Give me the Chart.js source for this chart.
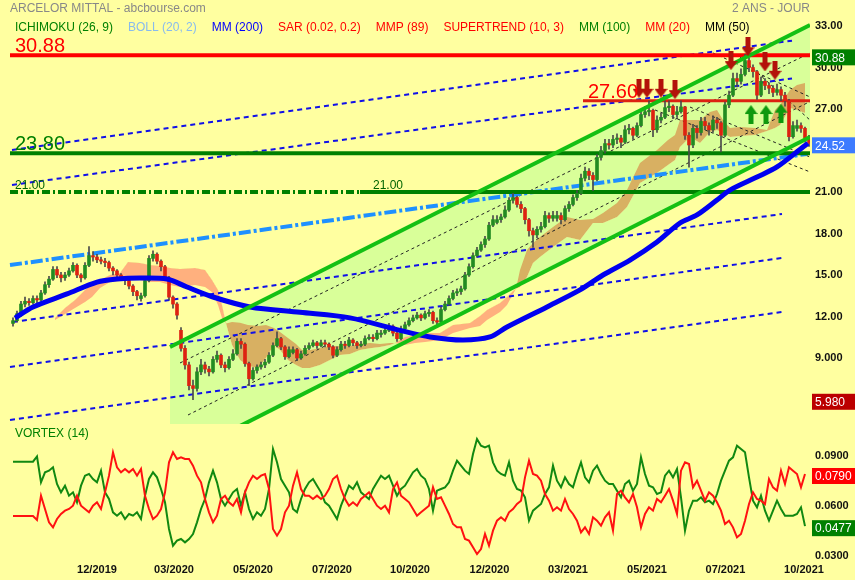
<!DOCTYPE html>
<html lang="fr">
<head>
<meta charset="UTF-8">
<title>ARCELOR MITTAL - 2 ans</title>
<script src="https://cdn.jsdelivr.net/npm/chart.js"></script>
<style>
  html, body { margin: 0; padding: 0; background: #ffffa0; }
  canvas { display: block; }
</style>
</head>
<body>
<canvas id="prix" width="855" height="424"></canvas>
<canvas id="vortex" width="855" height="156"></canvas>
<script>
// bougies (1 bougie ~ 2,5 seances)
const opens = [
  11.5,11.7,12.2,12.9,13.1,13.0,13.3,13.2,13.7,14.3, 14.7,15.4,15.0,14.8,15.0,15.3,15.7,15.0,14.8,15.7,
  16.4,16.3,16.1,16.0,15.9,15.5,15.3,15.0,14.8,14.6, 14.2,13.8,13.3,13.5,14.6,16.2,16.5,16.0,15.6,14.8,
  13.4,12.9,11.0,9.7,8.5,7.0,6.8,8.0,8.5,8.2, 8.0,8.9,9.2,8.5,8.3,8.9,9.3,10.2,10.0,8.6,
  7.5,8.1,8.35,8.5,8.7,9.2,9.9,10.4,9.8,9.1, 9.4,9.6,9.0,9.3,9.7,9.9,10.1,9.9,10.1,10.0,
  9.8,9.2,9.6,10.0,9.9,10.3,10.1,9.9,10.0,10.4, 10.5,10.4,10.7,10.8,11.0,11.3,10.8,10.4,11.1,11.4,
  11.7,11.9,12.1,11.9,12.2,12.3,11.7,11.6,12.5,12.9, 13.3,13.7,13.8,14.0,15.0,15.6,16.4,16.8,17.2,17.6,
  18.6,18.8,19.0,19.2,19.7,20.4,20.6,20.1,19.8,19.0, 18.2,17.9,18.3,18.5,19.3,19.1,19.1,19.3,19.0,19.8,
  20.1,20.6,20.9,22.0,22.5,22.2,21.9,23.5,24.0,24.5, 24.4,24.8,24.9,24.6,25.5,25.6,25.1,25.8,26.6,26.8,
  26.9,25.5,26.2,26.4,27.1,27.2,26.6,26.8,27.15,25.1, 24.4,25.6,25.3,26.1,25.8,25.5,26.2,26.0,25.1,27.3,
  28.0,29.2,29.0,29.5,30.5,30.0,29.7,28.0,29.0,28.7, 28.5,28.2,28.4,28.0,27.6,25.0,25.6,25.8,25.6,24.9
];
const highs = [
  11.9,12.4,13.1,13.4,13.3,13.5,13.5,13.9,14.5,14.9, 15.6,15.6,15.2,15.2,15.5,15.9,15.8,15.1,15.9,17.05,
  16.7,16.5,16.3,16.2,16.0,15.6,15.4,15.1,14.9,14.7, 14.3,13.9,13.7,14.8,16.4,16.75,16.6,16.1,15.7,14.9,
  13.5,13.0,11.2,9.9,8.7,7.4,8.3,8.9,8.7,8.4, 9.1,9.5,9.3,8.7,9.1,9.6,10.4,10.4,10.1,8.7,
  8.3,8.5,8.7,8.9,9.4,10.1,10.9,10.5,9.9,9.8, 9.8,9.7,9.5,9.9,10.1,10.3,10.2,10.3,10.3,10.1,
  9.9,9.8,10.2,10.2,10.5,10.4,10.2,10.2,10.6,10.7, 10.7,11.0,11.0,11.2,11.5,11.4,10.9,11.3,11.6,11.9,
  12.1,12.3,12.2,12.4,12.5,12.4,11.9,12.7,13.1,13.5, 13.9,14.0,14.2,15.2,15.8,16.6,17.0,17.4,17.8,18.8,
  19.3,19.3,19.4,20.0,20.6,20.9,20.7,20.3,19.9,19.1, 18.4,18.5,18.8,19.6,19.5,19.6,19.6,19.5,20.0,20.3,
  20.8,21.1,22.3,22.8,22.7,22.4,23.7,24.3,24.8,24.8, 25.1,25.2,25.1,25.8,25.9,25.7,26.0,26.9,27.2,27.6,
  27.0,26.5,26.7,27.6,27.6,27.3,27.2,27.6,27.2,25.3, 25.9,25.8,26.4,26.4,26.0,26.5,26.4,26.1,27.5,28.3,
  29.6,29.6,29.9,30.95,30.7,30.2,29.8,29.3,29.2,28.9, 28.7,28.8,28.6,28.2,27.7,26.1,26.2,26.0,25.7,25.1
];
const lows = [
  11.3,11.6,12.0,12.7,12.8,12.9,13.0,13.1,13.6,14.1, 14.6,14.8,14.5,14.6,14.9,15.2,14.8,14.5,14.7,15.6,
  16.0,15.9,15.8,15.6,15.3,15.0,14.8,14.6,14.3,14.0, 13.5,13.2,13.1,13.4,14.5,16.0,15.8,15.3,14.6,13.2,
  12.6,11.8,9.5,8.2,6.7,5.98,6.6,7.8,7.9,7.7, 7.9,8.7,8.3,8.0,8.2,8.8,9.2,9.7,8.4,7.0,
  7.4,7.9,8.2,8.3,8.6,9.1,9.8,9.6,8.9,9.0, 9.3,8.8,8.9,9.2,9.6,9.8,9.7,9.8,9.8,9.6,
  9.0,9.1,9.5,9.7,9.8,9.9,9.7,9.8,9.9,10.3, 10.2,10.3,10.5,10.7,10.9,10.6,10.2,10.3,11.0,11.3,
  11.6,11.8,11.7,11.8,12.0,11.5,11.3,11.5,12.4,12.8, 13.2,13.5,13.6,13.9,14.9,15.5,16.3,16.7,17.0,17.5,
  18.5,18.7,18.8,19.1,19.6,20.2,19.9,19.5,18.7,17.8, 17.0,17.7,18.1,18.4,18.8,18.9,18.9,18.7,18.9,19.6,
  20.0,20.4,20.8,21.8,21.9,21.1,21.8,23.3,23.8,24.1, 24.2,24.5,24.2,24.5,25.2,24.8,25.0,25.7,26.4,26.5,
  25.0,25.3,26.0,26.3,26.8,26.3,26.4,26.7,24.8,22.8, 24.2,24.9,25.1,25.5,25.1,25.3,25.6,23.9,25.0,27.1,
  27.9,28.6,28.8,29.4,29.7,29.3,27.7,27.9,28.4,28.1, 27.9,28.0,27.6,27.2,24.7,24.9,25.4,25.3,24.6,24.3
];
const closes = [
  11.7,12.2,12.9,13.1,13.0,13.3,13.2,13.7,14.3,14.7, 15.4,15.0,14.8,15.0,15.3,15.7,15.0,14.8,15.7,16.4,
  16.3,16.1,16.0,15.9,15.5,15.3,15.0,14.8,14.6,14.2, 13.8,13.5,13.5,14.6,16.2,16.5,16.0,15.6,14.8,13.4,
  12.9,12.1,9.7,8.5,7.0,6.8,8.0,8.5,8.2,8.0, 8.9,9.2,8.5,8.3,8.9,9.3,10.2,10.0,8.6,7.5,
  8.1,8.35,8.5,8.7,9.2,9.9,10.4,9.8,9.1,9.6, 9.6,9.0,9.3,9.7,9.9,10.1,9.9,10.1,10.0,9.8,
  9.2,9.6,10.0,9.9,10.3,10.1,9.9,10.0,10.4,10.5, 10.4,10.8,10.8,11.0,11.3,10.8,10.4,11.1,11.4,11.7,
  11.9,12.1,11.9,12.2,12.3,11.7,11.6,12.5,12.9,13.3, 13.7,13.8,14.0,15.0,15.6,16.4,16.8,17.2,17.6,18.6,
  19.0,19.0,19.2,19.7,20.4,20.6,20.1,19.8,19.0,18.2, 17.9,18.3,18.5,19.3,19.1,19.3,19.3,19.0,19.8,20.1,
  20.6,20.9,22.0,22.5,22.2,21.9,23.5,24.0,24.5,24.4, 24.8,24.9,24.6,25.5,25.6,25.1,25.8,26.6,26.8,26.9,
  25.5,26.2,26.4,27.1,27.2,26.6,26.8,27.15,25.1,24.4, 25.6,25.3,26.1,25.8,25.5,26.2,26.0,25.1,27.3,28.0,
  29.2,29.0,29.5,30.5,30.0,29.7,28.0,29.0,28.7,28.5, 28.2,28.4,28.0,27.6,25.0,25.8,25.8,25.6,24.9,24.52
];

// MM 200
const ma200K = [0.5,5,13.5,21,26,31.75,38.5,43.5,50,59.25,71.75,84.25,96.75,104.25,112.5,119.25,123.5,133.5,141.75,147.5,154.25,161,166.75,171,176,179.25,186,191,197.5,198.75];
const ma200 = [11.89,12.69,13.63,14.49,14.71,14.78,14.71,14.13,13.41,12.69,12.3,11.9,11.0,10.52,10.3,10.52,11.24,12.69,13.92,15.0,16.08,17.39,18.76,19.34,20.42,21.14,22.08,22.81,24.25,24.52];

// nuage ichimoku
const cloudK = [10.5,13,15.5,18,19.75,21.75,24.25,26.75,28.75,31.75,34.25,36.75,39.25,41.75,45.5,48,49.75,51.25,52.25,53.25,
  54.75,56.75,58.75,61.25,63.25,65.25,66.75,68.75,70.75,72.25,74.25,76.75,79.25,81.75,84.25,86.75,89.25,91.75,94.25,95.5,
  98,100.5,103,106.75,110,114.25,116.75,118.5,121.75,123.5,125,125.75,
  126.75,128.5,130,131.75,135,138.5,141.75,145,147.5,151,153.5,156.75,161,163.75,165.5,166.75,169.25,171.75,174.25,176,177.5,179.25,181.75,185.5,188.5,190.5,191.75,194.25,196,198];
const spanA = [11.75,12.18,12.61,13.05,13.41,14.06,14.49,14.57,14.78,14.64,14.49,14.49,14.28,14.13,14.28,14.13,13.77,12.83,11.89,11.5,
  11.6,11.54,11.39,11.32,11.39,11.17,10.88,10.45,10.02,9.57,9.57,9.71,9.86,9.86,9.86,10.02,10.08,10.01,10.08,10.08,
  9.94,10.08,10.16,10.31,10.81,11.17,11.32,11.75,12.33,12.83,13.63,14.0,
  15.36,16.81,17.31,17.75,18.47,19.19,18.98,19.05,19.48,20.2,21.14,23.1,24.04,24.76,25.12,26.2,26.2,26.2,26.78,26.93,26.2,25.63,25.7,25.63,25.48,26.93,27.29,28.37,28.73,28.88];
const spanB = [11.89,12.61,13.19,13.92,14.35,14.64,15.0,15.14,15.94,15.87,15.72,15.65,15.51,15.43,15.51,15.36,14.64,13.92,12.83,11.5,
  9.94,8.86,8.42,8.28,9.0,9.94,9.57,8.86,8.5,8.28,8.28,8.5,8.86,9.21,9.29,9.57,9.71,9.79,9.94,10.08,
  10.52,10.66,10.81,10.81,11.39,11.53,12.04,12.47,12.98,13.41,13.84,14.0,
  14.13,14.86,15.87,16.3,17.02,17.75,17.53,18.76,18.76,19.19,19.92,21.65,22.37,22.95,23.31,24.25,24.98,24.54,25.34,25.48,25.26,24.98,25.05,25.12,25.41,25.63,25.84,27.07,26.93,26.71];

// lignes de tendance [indice, cours]
const channelHigh = [[39.25, 9.8], [199.25, 33.07]];
const channelLow = [[39.25, 1.52], [199.25, 24.98]];
const blueDashed = [
  [[-0.25, 24.04], [194.75, 31.94]],
  [[-0.25, 21.51], [194.75, 29.21]],
  [[0, 11.6], [192.25, 19.41]],
  [[-0.75, 8.35], [192.25, 16.23]],
  [[-0.75, 4.52], [192.25, 12.33]]
];
const lightBlueLine = [[-0.75, 15.72], [198.5, 23.75]];
const blackDashed = [
  [[41.75, 8.64], [199.25, 31.05]],
  [[43.75, 4.88], [199.25, 27.54]],
  [[175, 31.05], [199.25, 27.87]],
  [[181.75, 30.76], [199.25, 26.2]],
  [[169.25, 27.14], [199.25, 23.53]],
  [[160.5, 26.93], [199.25, 22.45]]
];
// niveaux horizontaux
const levelStart = -0.75, levelEnd = 199.25;
const resistHigh = 30.88, resistMid = 27.60, resistMidStart = 142.5;
const supportHigh = 23.80, supportLow = 21.00, supportLowSplit = 86.75;

// fleches du graphique
const sellArrows = [[156.5, 28.5], [158.5, 28.5], [162, 28.5], [165.5, 28.4], [179.5, 30.5], [183.75, 31.5], [188, 30.4], [190.5, 29.8]];
const buyArrows = [[184.5, 26.6], [188.25, 26.6], [192, 26.7]];

// textes
const levelTexts = [['30.88', 0.5, 30.88], ['23.80', 0.5, 23.80], ['21.00', 0.5, 21.00], ['21.00', 90, 21.00], ['27.60', 143.75, 27.60]];
const legendItems = ['ICHIMOKU (26, 9)', 'BOLL (20, 2)', 'MM (200)', 'SAR (0.02, 0.2)', 'MMP (89)', 'SUPERTREND (10, 3)', 'MM (100)', 'MM (20)', 'MM (50)'];
const legendColors = ['#008000', '#88bbee', '#0000ff', '#ff0000', '#ff0000', '#ff0000', '#008000', '#ff0000', '#000000'];
const priceTicks = [9, 12, 15, 18, 21, 27, 30, 33];
const priceMarks = [30.88, 24.52, 5.98];

// vortex (14)
const viPlus = [
  0.0864,0.0864,0.0864,0.0864,0.0864,0.0864,0.0895,0.074,0.080,0.081, 0.083,0.073,0.068,0.072,0.066,0.068,0.062,0.072,0.078,0.079,
  0.076,0.074,0.081,0.068,0.064,0.056,0.054,0.056,0.052,0.055, 0.054,0.056,0.052,0.066,0.076,0.080,0.077,0.070,0.062,0.046,
  0.036,0.039,0.040,0.038,0.040,0.043,0.050,0.058,0.064,0.074, 0.081,0.074,0.064,0.060,0.064,0.068,0.070,0.060,0.068,0.058,
  0.052,0.056,0.054,0.058,0.070,0.094,0.086,0.076,0.072,0.068, 0.058,0.056,0.064,0.070,0.074,0.076,0.072,0.068,0.062,0.060,
  0.056,0.052,0.060,0.066,0.072,0.070,0.074,0.068,0.066,0.064, 0.070,0.074,0.078,0.076,0.078,0.072,0.066,0.070,0.072,0.076,
  0.080,0.082,0.078,0.076,0.070,0.057,0.069,0.070,0.071,0.074, 0.081,0.087,0.084,0.081,0.079,0.091,0.100,0.096,0.095,0.096,
  0.086,0.081,0.079,0.078,0.086,0.075,0.070,0.069,0.065,0.051, 0.057,0.059,0.061,0.067,0.071,0.084,0.075,0.071,0.077,0.073,
  0.071,0.079,0.086,0.077,0.074,0.081,0.084,0.079,0.075,0.073, 0.073,0.069,0.065,0.073,0.075,0.069,0.073,0.089,0.079,0.072,
  0.071,0.067,0.068,0.078,0.081,0.077,0.082,0.065,0.045,0.057, 0.063,0.063,0.065,0.062,0.063,0.061,0.067,0.075,0.081,0.087,
  0.089,0.096,0.094,0.092,0.077,0.063,0.059,0.066,0.057,0.051, 0.057,0.063,0.058,0.054,0.054,0.054,0.055,0.059,0.0477
];
const viMinus = [
  0.0538,0.0538,0.0538,0.0538,0.0538,0.0538,0.0514,0.066,0.058,0.050, 0.047,0.052,0.055,0.057,0.058,0.060,0.066,0.060,0.058,0.056,
  0.060,0.062,0.058,0.068,0.078,0.092,0.083,0.080,0.082,0.080, 0.082,0.078,0.082,0.066,0.058,0.052,0.054,0.058,0.068,0.086,
  0.092,0.088,0.089,0.088,0.088,0.084,0.078,0.074,0.064,0.056, 0.050,0.054,0.064,0.066,0.062,0.060,0.064,0.056,0.068,0.074,
  0.078,0.076,0.078,0.079,0.070,0.046,0.042,0.046,0.056,0.060, 0.072,0.080,0.070,0.066,0.066,0.064,0.066,0.064,0.066,0.070,
  0.076,0.078,0.070,0.064,0.060,0.062,0.060,0.064,0.066,0.068, 0.064,0.060,0.058,0.060,0.056,0.070,0.074,0.066,0.064,0.062,
  0.058,0.054,0.056,0.058,0.060,0.071,0.064,0.065,0.060,0.055, 0.049,0.047,0.047,0.040,0.039,0.035,0.031,0.034,0.043,0.036,
  0.045,0.051,0.053,0.051,0.056,0.058,0.061,0.063,0.077,0.087, 0.079,0.078,0.075,0.067,0.063,0.057,0.059,0.057,0.064,0.058,
  0.055,0.051,0.044,0.047,0.043,0.053,0.051,0.048,0.053,0.056, 0.045,0.067,0.069,0.065,0.062,0.067,0.059,0.047,0.055,0.059,
  0.057,0.064,0.062,0.066,0.070,0.063,0.055,0.081,0.086,0.085, 0.071,0.075,0.069,0.063,0.068,0.066,0.062,0.057,0.049,0.051,
  0.047,0.041,0.043,0.051,0.061,0.068,0.064,0.063,0.061,0.076, 0.071,0.069,0.081,0.073,0.083,0.081,0.079,0.071,0.079
];
const vortexTicks = [0.03, 0.06, 0.09];
const vortexMarks = [0.0790, 0.0477];

// axe des dates
const xTickPos = [21, 40.25, 60, 79.75, 99.25, 119.1, 138.75, 158.5, 178.1, 197.75];
const xTickLabels = ['12/2019', '03/2020', '05/2020', '07/2020', '10/2020', '12/2020', '03/2021', '05/2021', '07/2021', '10/2021'];

Chart.defaults.font.family = '"Liberation Sans", Arial, sans-serif';
Chart.defaults.animation = false;

const X_MIN = -3.25, X_MAX = 199.25;
const pts = arr => arr.map(p => ({x: p[0], y: p[1]}));

function lineDs(points, color, width, dash, order) {
  return {type: 'line', data: pts(points), borderColor: color, borderWidth: width,
    borderDash: dash || [], pointRadius: 0, fill: false, tension: 0, order: order};
}

function arrowImg(color, up) {
  const c = document.createElement('canvas');
  c.width = 13; c.height = 19;
  const g = c.getContext('2d');
  g.fillStyle = color;
  g.beginPath();
  if (up) {
    g.moveTo(6.5, 0); g.lineTo(13, 9); g.lineTo(9, 9); g.lineTo(9, 19);
    g.lineTo(4, 19); g.lineTo(4, 9); g.lineTo(0, 9);
  } else {
    g.moveTo(4, 0); g.lineTo(9, 0); g.lineTo(9, 10); g.lineTo(13, 10);
    g.lineTo(6.5, 19); g.lineTo(0, 10); g.lineTo(4, 10);
  }
  g.closePath();
  g.fill();
  return c;
}

const datasets = [];
// fond vert du canal
datasets.push({type: 'line', data: pts(channelHigh), borderColor: 'rgba(0,0,0,0)', borderWidth: 0,
  pointRadius: 0, fill: '+1', backgroundColor: '#d9ff99', order: 100});
datasets.push({type: 'line', data: pts(channelLow), borderColor: 'rgba(0,0,0,0)', borderWidth: 0,
  pointRadius: 0, fill: false, order: 99});
// nuage
datasets.push({type: 'line', data: cloudK.map((k, i) => ({x: k, y: spanA[i]})), borderColor: 'rgba(0,0,0,0)',
  borderWidth: 0, pointRadius: 0, tension: 0, order: 90,
  fill: {target: '+1', above: '#d8b062', below: '#ffb07e'}});
datasets.push({type: 'line', data: cloudK.map((k, i) => ({x: k, y: spanB[i]})), borderColor: 'rgba(0,0,0,0)',
  borderWidth: 0, pointRadius: 0, tension: 0, fill: false, order: 89});
// droites
blueDashed.forEach(l => datasets.push(lineDs(l, '#1010e8', 2, [5, 4], 80)));
datasets.push(lineDs(lightBlueLine, '#1e90ff', 4, [12, 3, 3, 3], 80));
blackDashed.forEach(l => datasets.push(lineDs(l, '#222222', 1, [3, 3], 80)));
// niveaux
datasets.push(lineDs([[levelStart, resistHigh], [levelEnd, resistHigh]], '#ff0000', 4, null, 70));
datasets.push(lineDs([[resistMidStart, resistMid], [levelEnd, resistMid]], '#dd2211', 3, null, 70));
datasets.push(lineDs([[levelStart, supportHigh], [levelEnd, supportHigh]], '#008000', 4, null, 70));
datasets.push(lineDs([[levelStart, supportLow], [supportLowSplit, supportLow]], '#008000', 4, [8, 3, 2, 3], 70));
datasets.push(lineDs([[supportLowSplit, supportLow], [levelEnd, supportLow]], '#008000', 4, null, 70));
// bougies
datasets.push({type: 'bar', data: closes.map((c, i) => ({x: i, y: [lows[i], highs[i]]})),
  backgroundColor: '#4a4a4a', barThickness: 1, grouped: false, order: 60});
datasets.push({type: 'bar', data: closes.map((c, i) => ({x: i, y: [opens[i], c]})),
  backgroundColor: closes.map((c, i) => c >= opens[i] ? '#228b22' : '#dd2211'),
  barThickness: 3, grouped: false, order: 59});
// MM 200
datasets.push({type: 'line', data: ma200K.map((k, i) => ({x: k, y: ma200[i]})), borderColor: '#0000f0',
  borderWidth: 5, pointRadius: 0, tension: 0.3, fill: false, order: 50});
// canal
datasets.push(lineDs(channelHigh, '#14c014', 4, null, 40));
datasets.push(lineDs(channelLow, '#14c014', 4, null, 40));
// fleches
datasets.push({type: 'line', data: pts(sellArrows), showLine: false, pointRadius: 6,
  pointStyle: arrowImg('#b3120a', false), order: 10});
datasets.push({type: 'line', data: pts(buyArrows), showLine: false, pointRadius: 6,
  pointStyle: arrowImg('#0e990e', true), order: 10});

function drawMarks(chart, values, colors, fmt) {
  const {ctx, chartArea, scales: {y}} = chart;
  ctx.save();
  ctx.font = '12px "Liberation Sans", Arial, sans-serif';
  ctx.textBaseline = 'middle';
  ctx.textAlign = 'left';
  values.forEach((v, i) => {
    const py = y.getPixelForValue(v) + 2;
    ctx.fillStyle = colors[i];
    ctx.fillRect(chartArea.right + 2, py - 8, 45, 16);
    ctx.fillStyle = '#ffffff';
    ctx.fillText(fmt(v), chartArea.right + 5, py + 1);
  });
  ctx.restore();
}

const priceDecor = {
  id: 'priceDecor',
  afterDatasetsDraw(chart) {
    const {ctx, scales: {x, y}} = chart;
    ctx.save();
    const sizes = [20, 20, 12, 12, 20];
    const cols = ['#ff0000', '#008000', '#006400', '#006400', '#ff0000'];
    ctx.textBaseline = 'alphabetic';
    ctx.textAlign = 'left';
    levelTexts.forEach((t, i) => {
      ctx.font = sizes[i] + 'px "Liberation Sans", Arial, sans-serif';
      ctx.fillStyle = cols[i];
      ctx.fillText(t[0], x.getPixelForValue(t[1]), y.getPixelForValue(t[2]) - 3);
    });
    ctx.font = '12px "Liberation Sans", Arial, sans-serif';
    ctx.textBaseline = 'middle';
    ctx.fillStyle = '#888888';
    ctx.fillText('ARCELOR MITTAL - abcbourse.com', 10, 9);
    ctx.textAlign = 'right';
    ctx.fillText('2 ANS - JOUR', 810, 9);
    ctx.textAlign = 'left';
    let lx = 15;
    legendItems.forEach((t, i) => {
      ctx.fillStyle = legendColors[i];
      ctx.fillText(t, lx, 28);
      lx += ctx.measureText(t).width + 15;
    });
    ctx.restore();
  },
  afterDraw(chart) {
    drawMarks(chart, priceMarks, ['#008000', '#3d7bff', '#bb0000'], v => v.toPrecision(4));
  }
};

new Chart(document.getElementById('prix'), {
  type: 'line',
  data: {datasets: datasets},
  options: {
    responsive: false,
    animation: false,
    layout: {padding: 0, autoPadding: false},
    plugins: {legend: {display: false}, tooltip: {enabled: false}},
    scales: {
      x: {type: 'linear', min: X_MIN, max: X_MAX, display: false, offset: false},
      y: {
        position: 'right', min: 4.229, max: 34.88, beginAtZero: false,
        grid: {display: false, drawTicks: false}, border: {display: false},
        afterFit(s) { s.width = 45; s.paddingTop = 0; s.paddingBottom = 0; },
        afterBuildTicks(s) { s.ticks = priceTicks.map(v => ({value: v})); },
        ticks: {padding: 5, color: '#111111', font: {size: 11, weight: 'bold'},
          callback: v => Number(v).toPrecision(4)}
      }
    }
  },
  plugins: [priceDecor]
});

const vortexDecor = {
  id: 'vortexDecor',
  afterDatasetsDraw(chart) {
    const {ctx} = chart;
    ctx.save();
    ctx.font = '12px "Liberation Sans", Arial, sans-serif';
    ctx.fillStyle = '#008000';
    ctx.textBaseline = 'middle';
    ctx.fillText('VORTEX (14)', 15, 10);
    ctx.restore();
  },
  afterDraw(chart) {
    drawMarks(chart, vortexMarks, ['#ff0000', '#008000'], v => v.toFixed(4));
  }
};

new Chart(document.getElementById('vortex'), {
  type: 'line',
  data: {
    datasets: [
      {data: viPlus.map((v, i) => ({x: i, y: v})), borderColor: '#118811', borderWidth: 2,
        pointRadius: 0, tension: 0, fill: false, order: 2},
      {data: viMinus.map((v, i) => ({x: i, y: v})), borderColor: '#ff1111', borderWidth: 2,
        pointRadius: 0, tension: 0, fill: false, order: 1}
    ]
  },
  options: {
    responsive: false,
    animation: false,
    layout: {padding: {top: 2}, autoPadding: false},
    plugins: {legend: {display: false}, tooltip: {enabled: false}},
    scales: {
      x: {
        type: 'linear', min: X_MIN, max: X_MAX, offset: false,
        grid: {display: false, drawTicks: false}, border: {display: false},
        afterFit(s) { s.height = 23; s.paddingLeft = 0; s.paddingRight = 0; },
        afterBuildTicks(s) { s.ticks = xTickPos.map(v => ({value: v})); },
        ticks: {autoSkip: false, maxRotation: 0, padding: 6, color: '#111111',
          font: {size: 11, weight: 'bold'}, callback: (v, i) => xTickLabels[i]}
      },
      y: {
        position: 'right', min: 0.0292, max: 0.1078,
        grid: {display: false, drawTicks: false}, border: {display: false},
        afterFit(s) { s.width = 45; s.paddingTop = 0; s.paddingBottom = 0; },
        afterBuildTicks(s) { s.ticks = vortexTicks.map(v => ({value: v})); },
        ticks: {padding: 5, color: '#111111', font: {size: 11, weight: 'bold'},
          callback: v => Number(v).toFixed(4)}
      }
    }
  },
  plugins: [vortexDecor]
});
</script>
</body>
</html>
